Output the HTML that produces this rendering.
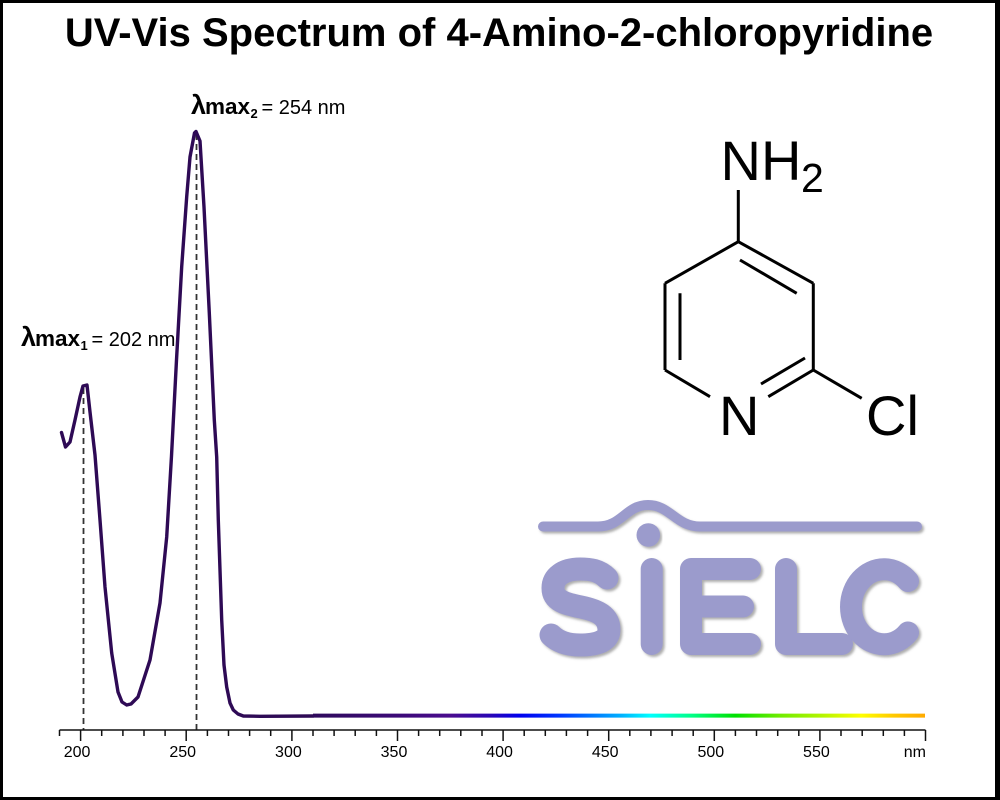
<!DOCTYPE html>
<html>
<head>
<meta charset="utf-8">
<style>
  html, body { margin: 0; padding: 0; background: #fff; }
  body { width: 1000px; height: 800px; overflow: hidden; }
  svg { display: block; }
  text { font-family: "Liberation Sans", Arial, sans-serif; }
</style>
</head>
<body>
<svg width="1000" height="800" viewBox="0 0 1000 800" xmlns="http://www.w3.org/2000/svg">
  <defs>
    <linearGradient id="spec" gradientUnits="userSpaceOnUse" x1="313" y1="0" x2="925" y2="0">
      <stop offset="0" stop-color="#2f0a5c"/>
      <stop offset="0.142" stop-color="#3c0a78"/>
      <stop offset="0.224" stop-color="#4a0c8e"/>
      <stop offset="0.289" stop-color="#2a06b4"/>
      <stop offset="0.338" stop-color="#0000ee"/>
      <stop offset="0.404" stop-color="#0038ff"/>
      <stop offset="0.503" stop-color="#00b0ff"/>
      <stop offset="0.551" stop-color="#00ffff"/>
      <stop offset="0.618" stop-color="#00ff88"/>
      <stop offset="0.690" stop-color="#00e000"/>
      <stop offset="0.763" stop-color="#70ec00"/>
      <stop offset="0.828" stop-color="#b0f400"/>
      <stop offset="0.896" stop-color="#ffff00"/>
      <stop offset="0.950" stop-color="#ffc800"/>
      <stop offset="1" stop-color="#ffaa00"/>
    </linearGradient>
    <filter id="sh" x="-10%" y="-10%" width="120%" height="130%">
      <feDropShadow dx="2" dy="2" stdDeviation="1.2" flood-color="#777" flood-opacity="0.6"/>
    </filter>
  </defs>

  <rect x="0" y="0" width="1000" height="800" fill="#fff"/>
  <rect x="1.5" y="1.5" width="996" height="797" fill="none" stroke="#000" stroke-width="3"/>
  <rect x="995" y="0" width="5" height="800" fill="#000"/>

  <text x="499" y="46" text-anchor="middle" font-size="40" font-weight="bold" fill="#000">UV-Vis Spectrum of 4-Amino-2-chloropyridine</text>

  <g fill="none" stroke="#9b9bcc" stroke-linecap="round" stroke-linejoin="round" filter="url(#sh)">
    <path d="M543 526.5 L598 526.5 C622 526.5 626 505 648 505 C670 505 676 526.5 700 526.5 L917 526.5" stroke-width="10"/>
    <path d="M607 578 C599 570 590 569 580 569 C563 569 553 577 553 588 C553 601 566 604 581 607 C598 610.5 609 616 609 630 C609 640 599 645 580 645 C567 645 557 641 551 635" stroke-width="23"/>
    <line x1="651.7" y1="569" x2="651.7" y2="644" stroke-width="22"/>
    <path d="M750 569 L691 569 L691 644 L750 644 M691 606.5 L743 606.5" stroke-width="22"/>
    <path d="M786 569 L786 644 L842 644" stroke-width="22"/>
    <path d="M908 581 A33 37.5 0 1 0 908 632.5" stroke-width="22"/>
  </g>
  <circle cx="648.3" cy="535" r="11.8" fill="#9b9bcc" filter="url(#sh)"/>

  <g stroke="#000" stroke-width="3" fill="none" stroke-linecap="butt">
    <line x1="738.3" y1="190" x2="738.3" y2="241.7"/>
    <line x1="738.3" y1="241.7" x2="813.3" y2="283.3"/>
    <line x1="813.3" y1="283.3" x2="813.3" y2="370"/>
    <line x1="813.3" y1="370" x2="861.7" y2="398.3"/>
    <line x1="813.3" y1="370" x2="768.3" y2="396.7"/>
    <line x1="738.3" y1="241.7" x2="665" y2="283.3"/>
    <line x1="665" y1="283.3" x2="665" y2="370"/>
    <line x1="665" y1="370" x2="710" y2="396.7"/>
    <line x1="740" y1="260" x2="796.7" y2="293.3"/>
    <line x1="680" y1="293.3" x2="680" y2="360"/>
    <line x1="761" y1="384" x2="805" y2="358"/>
  </g>
  <text x="720.5" y="180" font-size="56" fill="#000">NH</text>
  <text x="801" y="192" font-size="41" fill="#000">2</text>
  <text x="719" y="435" font-size="56" fill="#000">N</text>
  <text x="866" y="435" font-size="56" fill="#000">Cl</text>

  <line x1="83.5" y1="388" x2="83.5" y2="730" stroke="#333" stroke-width="1.8" stroke-dasharray="6,4"/>
  <line x1="196.5" y1="134" x2="196.5" y2="730" stroke="#333" stroke-width="1.8" stroke-dasharray="6,4"/>

  <polyline fill="none" stroke="#2e0a55" stroke-width="3.4" stroke-linejoin="round" stroke-linecap="round"
    points="61.5,432.5 65.5,447 70,442 75,420 80,397 83,386 87,385 90,412 95,455 100,520 105,587 111.7,653 118,692 122,702 126.7,705 131,704 138,697 150,660 160,603 166.7,537 171.5,456 176.5,360 181.7,266.7 186.7,196.7 190,157 194.5,133 196,131.5 200,141 204,207 209.3,313 214.3,420 216.7,457 218.3,520 221.7,620 224,665 226.7,687 230,703 233.3,710 238,714 243.3,716 260,716.3 313,716"/>
  <line x1="313" y1="715.6" x2="925" y2="715.6" stroke="url(#spec)" stroke-width="4"/>

  <line x1="59.5" y1="730" x2="925.5" y2="730" stroke="#111" stroke-width="1.5"/>
  <g stroke="#111" stroke-width="1.5">
    <line x1="59.5" y1="730" x2="59.5" y2="736"/>
    <line x1="80.6" y1="730" x2="80.6" y2="741"/>
    <line x1="101.7" y1="730" x2="101.7" y2="736"/>
    <line x1="122.9" y1="730" x2="122.9" y2="736"/>
    <line x1="144.0" y1="730" x2="144.0" y2="736"/>
    <line x1="165.1" y1="730" x2="165.1" y2="736"/>
    <line x1="186.2" y1="730" x2="186.2" y2="741"/>
    <line x1="207.4" y1="730" x2="207.4" y2="736"/>
    <line x1="228.5" y1="730" x2="228.5" y2="736"/>
    <line x1="249.6" y1="730" x2="249.6" y2="736"/>
    <line x1="270.7" y1="730" x2="270.7" y2="736"/>
    <line x1="291.9" y1="730" x2="291.9" y2="741"/>
    <line x1="313.0" y1="730" x2="313.0" y2="736"/>
    <line x1="334.1" y1="730" x2="334.1" y2="736"/>
    <line x1="355.2" y1="730" x2="355.2" y2="736"/>
    <line x1="376.4" y1="730" x2="376.4" y2="736"/>
    <line x1="397.5" y1="730" x2="397.5" y2="741"/>
    <line x1="418.6" y1="730" x2="418.6" y2="736"/>
    <line x1="439.7" y1="730" x2="439.7" y2="736"/>
    <line x1="460.8" y1="730" x2="460.8" y2="736"/>
    <line x1="482.0" y1="730" x2="482.0" y2="736"/>
    <line x1="503.1" y1="730" x2="503.1" y2="741"/>
    <line x1="524.2" y1="730" x2="524.2" y2="736"/>
    <line x1="545.3" y1="730" x2="545.3" y2="736"/>
    <line x1="566.4" y1="730" x2="566.4" y2="736"/>
    <line x1="587.6" y1="730" x2="587.6" y2="736"/>
    <line x1="608.7" y1="730" x2="608.7" y2="741"/>
    <line x1="629.8" y1="730" x2="629.8" y2="736"/>
    <line x1="650.9" y1="730" x2="650.9" y2="736"/>
    <line x1="672.1" y1="730" x2="672.1" y2="736"/>
    <line x1="693.2" y1="730" x2="693.2" y2="736"/>
    <line x1="714.3" y1="730" x2="714.3" y2="741"/>
    <line x1="735.4" y1="730" x2="735.4" y2="736"/>
    <line x1="756.5" y1="730" x2="756.5" y2="736"/>
    <line x1="777.7" y1="730" x2="777.7" y2="736"/>
    <line x1="798.8" y1="730" x2="798.8" y2="736"/>
    <line x1="819.9" y1="730" x2="819.9" y2="741"/>
    <line x1="841.0" y1="730" x2="841.0" y2="736"/>
    <line x1="862.2" y1="730" x2="862.2" y2="736"/>
    <line x1="883.3" y1="730" x2="883.3" y2="736"/>
    <line x1="904.4" y1="730" x2="904.4" y2="736"/>
    <line x1="925.5" y1="730" x2="925.5" y2="741"/>
  </g>
  <g font-size="16" fill="#000" text-anchor="middle">
    <text x="77.1" y="757">200</text>
    <text x="182.7" y="757">250</text>
    <text x="288.4" y="757">300</text>
    <text x="394" y="757">350</text>
    <text x="499.6" y="757">400</text>
    <text x="605.2" y="757">450</text>
    <text x="710.8" y="757">500</text>
    <text x="816.4" y="757">550</text>
    <text x="926" y="757" text-anchor="end">nm</text>
  </g>

  <g fill="#000">
    <text x="21" y="346" font-size="27" font-weight="bold">λ</text>
    <text x="35" y="346" font-size="22.5" font-weight="bold">max</text>
    <text x="80.5" y="350" font-size="13" font-weight="bold">1</text>
    <text x="91.5" y="346" font-size="20">= 202 nm</text>

    <text x="191" y="114" font-size="27" font-weight="bold">λ</text>
    <text x="205" y="114" font-size="22.5" font-weight="bold">max</text>
    <text x="250.5" y="118" font-size="13" font-weight="bold">2</text>
    <text x="261.5" y="114" font-size="20">= 254 nm</text>
  </g>
</svg>
</body>
</html>
